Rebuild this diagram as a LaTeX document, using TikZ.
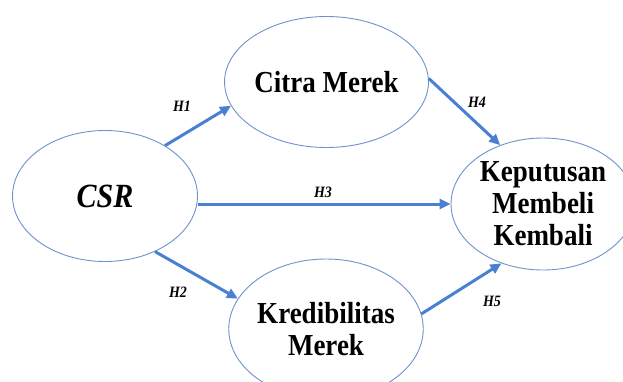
\documentclass[tikz,border=0pt]{standalone}
\usepackage{fontspec}
\setmainfont{Liberation Serif}
\usetikzlibrary{shapes.geometric,arrows.meta}
\definecolor{arrblue}{RGB}{74,128,210}
\definecolor{ellblue}{RGB}{112,146,204}
\newcommand{\vst}[1]{\scalebox{1}[1.13]{#1}}
\tikzset{
  construct/.style={ellipse, draw=ellblue, line width=0.9pt, fill=white,
    minimum width=185pt, minimum height=131pt, inner sep=0pt, align=center,
    font=\fontsize{27}{33}\selectfont\bfseries},
  path/.style={draw=arrblue, line width=3pt,
    -{Triangle[length=11pt,width=10pt]}},
  hyp/.style={font=\fontsize{14}{14}\selectfont\bfseries\itshape, inner sep=0pt}
}
\begin{document}
\begin{tikzpicture}[x=1pt,y=-1pt]
\useasboundingbox (0,0) rectangle (623,381);
\clip (0,0) rectangle (623,381);
\node[construct] (csr) at (105,196) {\fontsize{30}{33}\selectfont\bfseries\itshape\vst{CSR}};
\node[construct] (citra) at (326.5,82) {\vst{Citra Merek}};
\node[construct, minimum height=140pt] (kred) at (326,329) {\vst{Kredibilitas}\\[-1pt]\vst{Merek}};
\node[construct, minimum width=184pt, minimum height=132pt] (kep) at (543,204) {\vst{Keputusan}\\[-1pt]\vst{Membeli}\\[-1pt]\vst{Kembali}};
\draw[path] (csr.40) -- (citra.194);
\draw[path] (csr.-48) -- (kred.161);
\draw[path] (kep.west -| csr.east) -- (kep.west);
\draw[path] (citra.2) -- (kep.126);
\draw[path] (kred.9) -- (kep.235);
\node[hyp] (h1) at (182,106) {\vst{H1}};
\node[hyp] (h2) at (178,292) {\vst{H2}};
\node[hyp] (h3) at (323,192) {\vst{H3}};
\node[hyp] (h4) at (477,102) {\vst{H4}};
\node[hyp] (h5) at (492,301) {\vst{H5}};
\end{tikzpicture}
\end{document}
